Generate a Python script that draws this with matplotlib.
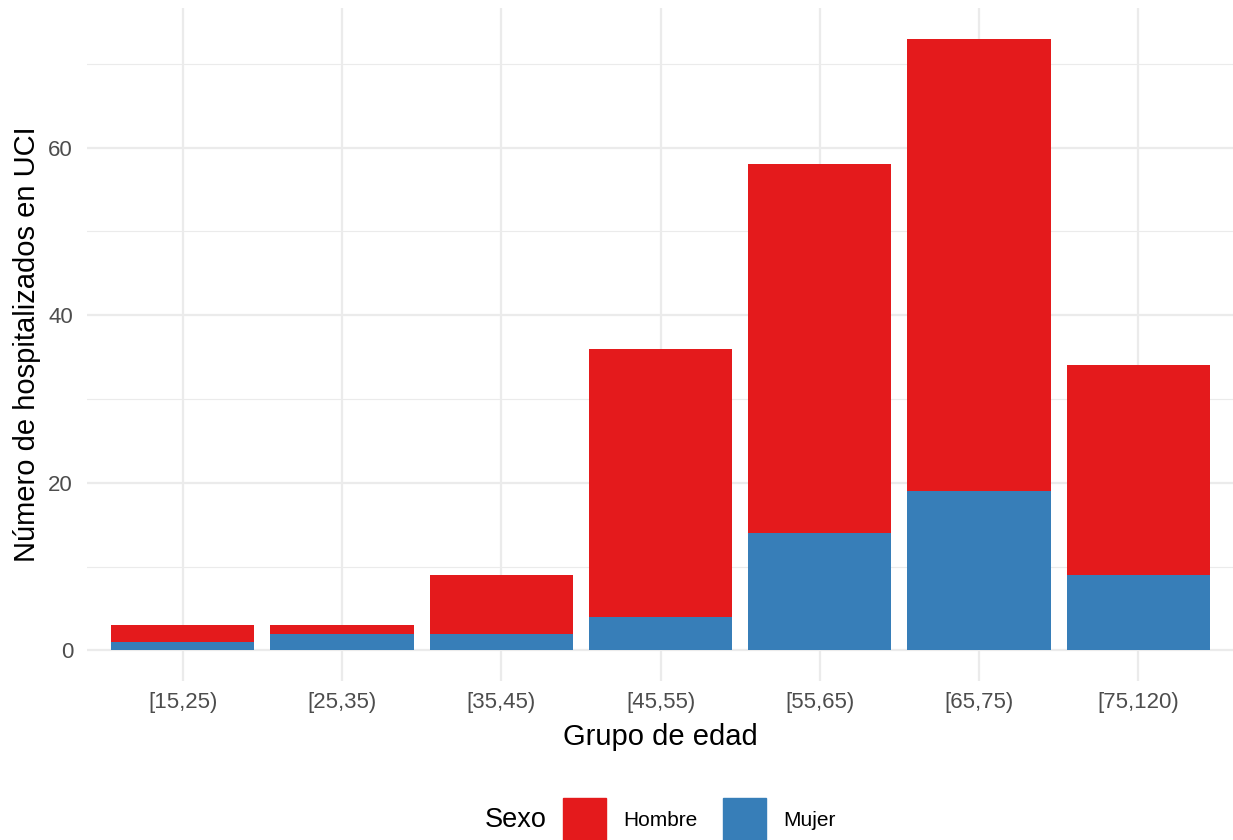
import matplotlib
matplotlib.use("Agg")
import matplotlib.pyplot as plt
from matplotlib.patches import Rectangle
import numpy as np

plt.rcParams['font.family'] = ['Liberation Sans', 'DejaVu Sans']

categories = ["[15,25)", "[25,35)", "[35,45)", "[45,55)", "[55,65)", "[65,75)", "[75,120)"]
mujer = [1, 2, 2, 4, 14, 19, 9]
hombre = [2, 1, 7, 32, 44, 54, 25]
series_names = ["Hombre", "Mujer"]
colors = {"Hombre": "#E41A1C", "Mujer": "#377EB8"}

W, H = 1233, 840
fig = plt.figure(figsize=(W / 100, H / 100), dpi=100)
ax = fig.add_axes([87 / W, 1 - 681 / H, (1234 - 87) / W, (681 - 8) / H])

x = np.arange(1, len(categories) + 1)
ax.bar(x, mujer, width=0.9, color=colors["Mujer"], zorder=3)
ax.bar(x, hombre, width=0.9, bottom=mujer, color=colors["Hombre"], zorder=3)

totals = np.array(mujer) + np.array(hombre)
ymax = totals.max()
ax.set_ylim(-0.05 * ymax, ymax * 1.05)
ax.set_xlim(0.4, len(categories) + 0.6)

ax.set_yticks([0, 20, 40, 60])
ax.set_yticks([10, 30, 50, 70], minor=True)
ax.set_xticks(x)
ax.set_xticklabels(categories)
ax.grid(which='major', color='#EBEBEB', linewidth=1.6, zorder=0)
ax.grid(which='minor', axis='y', color='#EBEBEB', linewidth=0.8, zorder=0)
ax.tick_params(which='both', length=0, labelsize=16, labelcolor='#4D4D4D')
ax.tick_params(axis='x', pad=8)
ax.tick_params(axis='y', pad=10)
for s in ax.spines.values():
    s.set_visible(False)

ax.set_xlabel("Grupo de edad", fontsize=21, color='black', va='center')
ax.xaxis.set_label_coords(0.5, -(737 - 681) / 673)
ax.set_ylabel("Número de hospitalizados en UCI", fontsize=21, color='black', va='center')
ax.yaxis.set_label_coords((27 - 87) / 1147, 0.5)

# legend at bottom
ty = 1 - 820 / H
fig.text(485 / W, ty, "Sexo", fontsize=19.5, ha='left', va='center')
key_x = [563, 723]
for name, kx in zip(series_names, key_x):
    fig.add_artist(Rectangle((kx / W, 1 - 840 / H), 43 / W, 42 / H,
                             transform=fig.transFigure, color=colors[name]))
    fig.text((kx + 60) / W, ty, name, fontsize=15, ha='left', va='center')

fig.savefig("out.png", dpi=100)
